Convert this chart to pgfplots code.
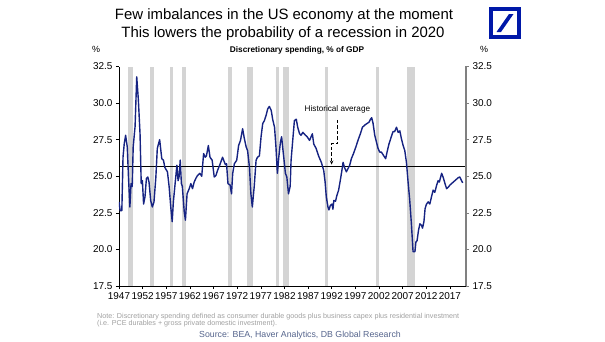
\documentclass[border=0pt]{standalone}
\usepackage{pgfplots}
\pgfplotsset{compat=1.18}
\usepackage{fontspec}
\setmainfont{Liberation Sans}
\usetikzlibrary{arrows.meta}
\definecolor{navy}{RGB}{22,35,130}
\definecolor{recgray}{RGB}{212,212,212}
\definecolor{dbblue}{RGB}{0,24,168}
\definecolor{notegray}{RGB}{160,160,160}
\definecolor{srcblue}{RGB}{85,100,140}
\pgfplotstableread{
x y
1947.0 23.25
1947.25 22.65
1947.6 22.65
1947.85 26.3
1948.1 27.2
1948.4 27.8
1948.75 27.0
1949.0 25.0
1949.3 22.9
1949.55 24.5
1949.8 24.3
1950.0 27.0
1950.4 28.4
1950.75 31.8
1951.1 30.2
1951.45 27.9
1951.7 24.5
1951.95 24.7
1952.2 23.1
1952.5 23.6
1952.8 24.85
1953.1 24.95
1953.35 24.6
1953.7 23.35
1954.05 22.9
1954.4 23.25
1954.8 24.95
1955.1 26.9
1955.6 27.5
1956.05 26.2
1956.4 26.1
1956.7 25.6
1957.25 25.3
1957.6 24.3
1957.95 22.9
1958.25 21.9
1958.5 23.25
1958.9 24.6
1959.25 25.75
1959.5 24.7
1959.7 24.95
1959.95 26.1
1960.2 24.5
1960.4 24.3
1960.8 22.55
1961.05 22.0
1961.4 23.8
1961.85 24.15
1962.2 24.5
1962.55 24.15
1962.9 24.6
1963.25 24.85
1963.6 25.05
1964.1 25.2
1964.5 25.0
1964.9 26.55
1965.25 26.3
1965.5 26.4
1965.9 27.1
1966.25 26.3
1966.7 26.1
1967.15 24.95
1967.5 25.05
1967.85 25.4
1968.35 25.8
1968.9 26.3
1969.5 25.8
1969.75 25.85
1970.05 24.5
1970.5 24.4
1970.8 23.8
1971.05 25.2
1971.4 25.85
1971.9 26.1
1972.3 27.1
1972.7 27.45
1973.15 28.25
1973.5 27.6
1973.9 27.0
1974.2 26.75
1974.6 25.6
1974.9 23.8
1975.2 22.9
1975.6 24.3
1976.0 26.1
1976.3 26.3
1976.7 26.4
1977.05 27.7
1977.4 28.6
1977.75 28.8
1978.1 29.15
1978.45 29.6
1978.8 29.77
1979.2 29.5
1979.5 28.9
1979.9 28.35
1980.2 27.0
1980.5 25.2
1980.8 26.3
1981.15 27.35
1981.4 27.7
1981.65 26.9
1981.85 26.3
1982.2 25.2
1982.5 24.95
1982.85 23.8
1983.2 24.3
1983.4 26.1
1983.75 27.45
1984.1 28.8
1984.5 28.9
1984.8 28.35
1985.2 27.9
1985.5 27.8
1985.9 28.0
1986.45 27.8
1986.8 27.7
1987.3 27.45
1987.9 27.9
1988.2 27.2
1988.7 26.9
1989.2 26.4
1989.8 25.95
1990.3 25.4
1990.6 24.6
1990.85 23.6
1991.2 22.9
1991.4 22.7
1991.7 23.0
1992.05 23.1
1992.25 22.75
1992.45 23.35
1992.8 23.3
1993.1 23.7
1993.45 24.05
1993.8 24.7
1994.1 25.3
1994.4 25.95
1994.7 25.6
1995.1 25.3
1995.4 25.5
1995.8 25.75
1996.15 26.2
1996.6 26.55
1997.1 27.0
1997.55 27.45
1998.05 27.9
1998.5 28.35
1999.0 28.5
1999.45 28.6
1999.9 28.7
2000.2 28.9
2000.45 29.0
2000.75 28.6
2001.1 27.8
2001.45 27.35
2001.8 26.9
2002.15 26.65
2002.5 26.65
2003.0 26.4
2003.4 26.2
2003.7 26.65
2004.1 27.2
2004.6 27.7
2004.95 28.05
2005.3 28.05
2005.7 28.35
2006.05 28.0
2006.4 28.1
2006.75 27.55
2007.1 27.1
2007.45 26.75
2007.8 25.95
2008.15 24.6
2008.5 23.35
2008.85 21.75
2009.2 19.85
2009.6 19.85
2009.8 20.5
2010.05 20.6
2010.35 21.3
2010.65 21.75
2011.0 21.65
2011.2 21.45
2011.5 21.9
2011.75 22.8
2012.05 23.1
2012.4 23.25
2012.75 23.1
2013.1 23.6
2013.45 24.05
2013.8 23.9
2014.2 24.4
2014.5 24.7
2014.75 24.6
2015.25 25.2
2015.6 24.9
2015.95 24.5
2016.3 24.15
2016.65 24.25
2017.0 24.4
2017.35 24.5
2017.7 24.6
2018.05 24.7
2018.4 24.8
2018.75 24.9
2019.1 24.95
2019.45 24.7
2019.7 24.55
}\dataTable
\begin{document}
\begin{tikzpicture}[x=1bp,y=1bp]
\pgfplotsset{
  common/.style={
    width=347bp, height=219.5bp, scale only axis,
    xmin=1947, xmax=2020.4, ymin=17.5, ymax=32.5,
    ytick={17.5,20,22.5,25,27.5,30,32.5},
    tick align=outside, major tick length=3bp,
    /pgf/number format/assume math mode=true,
    yticklabel style={/pgf/number format/.cd,fixed,fixed zerofill,precision=1,/tikz/.cd,font=\fontsize{10}{12}\selectfont},
  }
}
\begin{axis}[common,
  axis x line*=bottom, axis y line*=left,
  axis line style={-, black, line width=0.6bp},
  tick style={black, line width=0.6bp},
  xtick={1947,1952,...,2017},
  xticklabel style={/pgf/number format/1000 sep=, font=\fontsize{10}{12}\selectfont},
]
\addplot[draw=none, fill=recgray] coordinates {(1948.8,17.5) (1948.8,32.5) (1950.0,32.5) (1950.0,17.5)} -- cycle;
\addplot[draw=none, fill=recgray] coordinates {(1953.55,17.5) (1953.55,32.5) (1954.45,32.5) (1954.45,17.5)} -- cycle;
\addplot[draw=none, fill=recgray] coordinates {(1957.7,17.5) (1957.7,32.5) (1958.4,32.5) (1958.4,17.5)} -- cycle;
\addplot[draw=none, fill=recgray] coordinates {(1960.35,17.5) (1960.35,32.5) (1961.15,32.5) (1961.15,17.5)} -- cycle;
\addplot[draw=none, fill=recgray] coordinates {(1970.0,17.5) (1970.0,32.5) (1970.95,32.5) (1970.95,17.5)} -- cycle;
\addplot[draw=none, fill=recgray] coordinates {(1974.0,17.5) (1974.0,32.5) (1975.3,32.5) (1975.3,17.5)} -- cycle;
\addplot[draw=none, fill=recgray] coordinates {(1980.15,17.5) (1980.15,32.5) (1980.75,32.5) (1980.75,17.5)} -- cycle;
\addplot[draw=none, fill=recgray] coordinates {(1981.7,17.5) (1981.7,32.5) (1983.0,32.5) (1983.0,17.5)} -- cycle;
\addplot[draw=none, fill=recgray] coordinates {(1990.65,17.5) (1990.65,32.5) (1991.3,32.5) (1991.3,17.5)} -- cycle;
\addplot[draw=none, fill=recgray] coordinates {(2001.35,17.5) (2001.35,32.5) (2002.05,32.5) (2002.05,17.5)} -- cycle;
\addplot[draw=none, fill=recgray] coordinates {(2008.0,17.5) (2008.0,32.5) (2009.6,32.5) (2009.6,17.5)} -- cycle;
\addplot[black, line width=0.8bp] coordinates {(1947,25.7) (2020.4,25.7)};
\addplot[navy, line width=1.4bp, line join=round] table[x=x,y=y] {\dataTable};
\node[font=\fontsize{8.2}{10}\selectfont] at (axis cs:1993.2,29.55) {Historical average};
\draw[black, line width=1.2bp, dash pattern=on 3.5bp off 2bp, -{Stealth[length=4bp,width=3.5bp]}]
  (axis cs:1993.25,28.85) -- (axis cs:1993.25,27.25) -- (axis cs:1991.97,27.25) -- (axis cs:1991.97,25.8);
\end{axis}
\begin{axis}[common,
  axis x line=none, axis y line*=right,
  axis line style={-, draw=gray, line width=1.2bp},
  tick style={gray, line width=0.6bp},
]
\addplot[draw=none] coordinates {(1950,20)};
\end{axis}
% titles and notes (origin = axis lower-left)
\node[anchor=base, font=\fontsize{15}{18}\selectfont] at (165,266.5) {Few imbalances in the US economy at the moment};
\node[anchor=base, font=\fontsize{15}{18}\selectfont] at (164,248.5) {This lowers the probability of a recession in 2020};
\node[anchor=base, font=\bfseries\fontsize{8.3}{10}\selectfont] at (178,233.5) {Discretionary spending, \% of GDP};
\node[anchor=base, font=\fontsize{9}{10}\selectfont] at (-23,233.5) {\%};
\node[anchor=base, font=\fontsize{9}{10}\selectfont] at (365,233.5) {\%};
\node[anchor=base west, inner sep=0pt, text=notegray, font=\fontsize{7.2}{8}\selectfont] at (-22,-32) {Note: Discretionary spending defined as consumer durable goods plus business capex plus residential investment};
\node[anchor=base west, inner sep=0pt, text=notegray, font=\fontsize{7.2}{8}\selectfont] at (-22,-39.8) {(i.e. PCE durables + gross private domestic investment).};
\node[anchor=base, inner sep=0pt, text=srcblue, font=\fontsize{8.8}{10}\selectfont] at (181,-51.5) {Source: BEA, Haver Analytics, DB Global Research};
% logo
\fill[dbblue] (370,247) rectangle (402,279);
\fill[white] (374,251) rectangle (398,275);
\fill[dbblue] (377.5,254) -- (382,254) -- (394.5,272) -- (390,272) -- cycle;
\pgfresetboundingbox
\path[use as bounding box] (-119,-55) rectangle (486,286);
\end{tikzpicture}
\end{document}
